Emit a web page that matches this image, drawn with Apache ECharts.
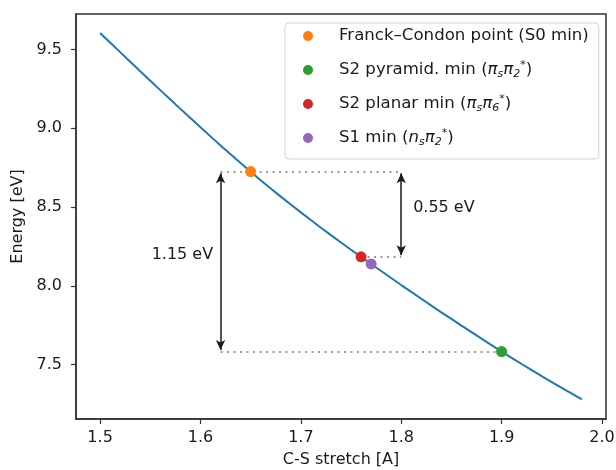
<!DOCTYPE html>
<html>
<head>
<meta charset="utf-8">
<script src="https://cdn.jsdelivr.net/npm/echarts@6/dist/echarts.min.js"></script>
<style>
  html, body { margin: 0; padding: 0; background: #fff; }
  #chart { width: 616px; height: 470px; }
</style>
</head>
<body>
<div id="chart"></div>
<script>
// curve: energy along the C-S stretch
const stretch = [1.50, 1.52, 1.54, 1.56, 1.58, 1.60, 1.62, 1.64, 1.66, 1.68, 1.70, 1.72, 1.74,
  1.76, 1.78, 1.80, 1.82, 1.84, 1.86, 1.88, 1.90, 1.92, 1.94, 1.96, 1.98]
const energy = [9.605, 9.483, 9.362, 9.242, 9.123, 9.006, 8.891, 8.779, 8.670, 8.566, 8.466, 8.369, 8.275,
  8.184, 8.094, 8.005, 7.918, 7.832, 7.748, 7.665, 7.583, 7.504, 7.427, 7.352, 7.280]

// special points
const pointNames = ['Franck–Condon point (S0 min)', 'S2 pyramid. min', 'S2 planar min', 'S1 min']
const pointX = [1.65, 1.90, 1.76, 1.77]
const pointY = [8.725, 7.583, 8.184, 8.139]
const pointColors = ['#ff7f0e', '#2ca02c', '#d62728', '#9467bd']
const pointLabels = [
  'Franck–Condon point (S0 min)',
  'S2 pyramid. min ({it|π}{sub|s}{it|π}{sub|2}{sup|*})',
  'S2 planar min ({it|π}{sub|s}{it|π}{sub|6}{sup|*})',
  'S1 min ({it|n}{sub|s}{it|π}{sub|2}{sup|*})'
]

// gap annotations
const gapLabels = ['1.15 eV', '0.55 eV']
const gapLabelX = [1.582, 1.8425]
const gapLabelY = [8.195, 8.498]

const xTicks = [1.5, 1.6, 1.7, 1.8, 1.9, 2.0]
const yTicks = [7.5, 8.0, 8.5, 9.0, 9.5]

const font = 'DejaVu Sans'
const ink = '#1a1a1a'

let myChart = echarts.init(document.getElementById('chart'))

const dotted = { color: '#7a7a7a', width: 1.5, type: [2, 4.5] }
const arrowStyle = { color: ink, width: 1.5, type: 'solid' }

myChart.setOption({
  animation: false,
  textStyle: { fontFamily: font },
  grid: {
    left: 76, top: 14, right: 10, bottom: 51,
    outerBoundsMode: 'none',
    containLabel: false,
    show: true, borderColor: '#333', borderWidth: 1.5
  },
  legend: {
    data: pointNames,
    orient: 'vertical',
    left: 285,
    top: 23,
    padding: [3, 10, 11, 18],
    itemGap: 14,
    itemWidth: 10,
    itemHeight: 10,
    icon: 'circle',
    borderColor: '#d5d5d5',
    borderWidth: 1,
    borderRadius: 4,
    backgroundColor: 'rgba(255,255,255,0.8)',
    formatter: name => pointLabels[pointNames.indexOf(name)],
    textStyle: {
      fontFamily: font,
      fontSize: 16.6,
      color: ink,
      lineHeight: 20,
      padding: [0, 0, 0, 21],
      rich: {
        it: { fontFamily: font, fontSize: 16.6, fontStyle: 'italic', color: ink, lineHeight: 20 },
        sub: { fontFamily: font, fontSize: 11, fontStyle: 'italic', color: ink, verticalAlign: 'bottom', lineHeight: 20 },
        sup: { fontFamily: font, fontSize: 11, color: ink, verticalAlign: 'top', lineHeight: 20 }
      }
    }
  },
  xAxis: {
    type: 'value',
    min: 1.476,
    max: 2.004,
    name: 'C-S stretch [A]',
    nameLocation: 'middle',
    nameGap: 33,
    nameTextStyle: { fontFamily: font, fontSize: 16, color: ink },
    axisLine: { show: true, lineStyle: { color: '#333', width: 1.5 } },
    axisTick: { show: true, length: 5, customValues: xTicks, lineStyle: { color: '#333', width: 1.2 } },
    axisLabel: {
      customValues: xTicks,
      formatter: v => v.toFixed(1),
      fontFamily: font, fontSize: 16, color: ink, margin: 11
    },
    splitLine: { show: false }
  },
  yAxis: {
    type: 'value',
    min: 7.155,
    max: 9.725,
    name: 'Energy [eV]',
    nameLocation: 'middle',
    nameGap: 46,
    nameTextStyle: { fontFamily: font, fontSize: 16, color: ink },
    axisLine: { show: true, lineStyle: { color: '#333', width: 1.5 } },
    axisTick: { show: true, length: 5, customValues: yTicks, lineStyle: { color: '#333', width: 1.2 } },
    axisLabel: {
      customValues: yTicks,
      formatter: v => v.toFixed(1),
      fontFamily: font, fontSize: 16, color: ink, margin: 14
    },
    splitLine: { show: false }
  },
  series: [
    {
      name: 'curve',
      type: 'line',
      data: stretch.map((x, i) => [x, energy[i]]),
      showSymbol: false,
      smooth: 0.2,
      lineStyle: { color: '#1f77b4', width: 2 },
      z: 2,
      markLine: {
        silent: true,
        animation: false,
        label: { show: false },
        symbol: 'none',
        lineStyle: dotted,
        data: [
          [{ coord: [1.62, pointY[0]] }, { coord: [1.80, pointY[0]] }],
          [{ coord: [pointX[2], pointY[2]] }, { coord: [1.80, pointY[2]] }],
          [{ coord: [1.62, pointY[1]] }, { coord: [pointX[1], pointY[1]] }],
          [{ coord: [1.62, pointY[0] - 0.01], symbol: 'arrow', symbolSize: [7, 10], lineStyle: arrowStyle },
           { coord: [1.62, pointY[1] + 0.01], symbol: 'arrow', symbolSize: [7, 10] }],
          [{ coord: [1.80, pointY[0] - 0.01], symbol: 'arrow', symbolSize: [7, 10], lineStyle: arrowStyle },
           { coord: [1.80, pointY[2] + 0.01], symbol: 'arrow', symbolSize: [7, 10] }]
        ]
      },
      markPoint: {
        silent: true,
        animation: false,
        symbol: 'circle',
        symbolSize: 0,
        label: {
          show: true,
          position: 'inside',
          formatter: p => p.name,
          fontFamily: font,
          fontSize: 16,
          color: ink
        },
        data: gapLabels.map((t, i) => ({ name: t, coord: [gapLabelX[i], gapLabelY[i]] }))
      }
    },
    ...pointNames.map((name, i) => ({
      name: name,
      type: 'scatter',
      data: [[pointX[i], pointY[i]]],
      symbolSize: 11,
      itemStyle: { color: pointColors[i], opacity: 1 },
      z: 5
    }))
  ]
})
</script>
</body>
</html>
